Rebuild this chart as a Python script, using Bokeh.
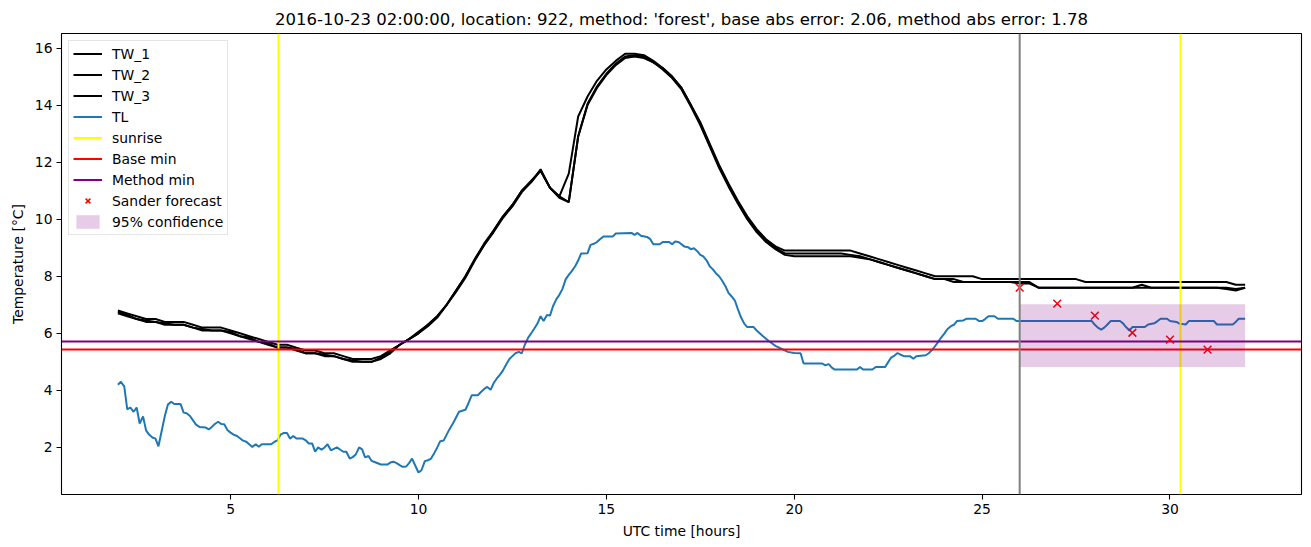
from bokeh.plotting import figure
from bokeh.models import Range1d, FixedTicker, Span
from bokeh.embed import file_html
from bokeh.resources import INLINE

# ---------------- data ----------------
tw_hours = [2 + 0.25 * i for i in range(121)]

TW_1 = [6.8, 6.7, 6.6, 6.5, 6.5, 6.4, 6.4, 6.4, 6.3, 6.2, 6.2, 6.2, 6.1, 6.0, 5.9, 5.8,
        5.7, 5.6, 5.6, 5.5, 5.4, 5.4, 5.3, 5.3, 5.2, 5.1, 5.1, 5.1, 5.2, 5.4, 5.6, 5.8,
        6.0, 6.3, 6.6, 7.0, 7.5, 8.0, 8.6, 9.15, 9.6, 10.1, 10.5, 11.0, 11.3, 11.75, 11.1, 10.8,
        11.6, 13.6, 14.3, 14.85, 15.25, 15.55, 15.8, 15.8, 15.75, 15.55, 15.3, 15.0, 14.6, 14.0,
        13.4, 12.65, 11.9, 11.25, 10.65, 10.1, 9.65, 9.3, 9.05, 8.9, 8.9, 8.9, 8.9, 8.9,
        8.9, 8.9, 8.9, 8.8, 8.7, 8.6, 8.5, 8.4, 8.3, 8.2, 8.1, 8.0, 8.0, 8.0, 8.0, 8.0,
        7.9, 7.9, 7.9, 7.9, 7.9, 7.9, 7.9, 7.9, 7.9, 7.9, 7.9, 7.8, 7.8, 7.8, 7.8, 7.8,
        7.8, 7.8, 7.8, 7.8, 7.8, 7.8, 7.8, 7.8, 7.8, 7.8, 7.8, 7.7, 7.7]

TW_2 = [6.7, 6.6, 6.5, 6.4, 6.4, 6.3, 6.3, 6.3, 6.2, 6.1, 6.1, 6.1, 6.0, 5.9, 5.8, 5.7,
        5.6, 5.5, 5.5, 5.4, 5.3, 5.3, 5.2, 5.2, 5.1, 5.0, 5.0, 5.0, 5.1, 5.3, 5.6, 5.8,
        6.0, 6.25, 6.55, 7.0, 7.45, 7.95, 8.55, 9.1, 9.55, 10.05, 10.45, 10.95, 11.3, 11.7, 11.1, 10.75,
        10.6, 12.9, 14.0, 14.6, 15.05, 15.4, 15.65, 15.7, 15.65, 15.5, 15.25, 14.95, 14.55, 13.95,
        13.3, 12.55, 11.8, 11.15, 10.55, 10.0, 9.55, 9.2, 8.95, 8.75, 8.7, 8.7, 8.7, 8.7,
        8.7, 8.7, 8.7, 8.65, 8.6, 8.5, 8.4, 8.3, 8.2, 8.1, 8.0, 7.9, 7.9, 7.8, 7.8, 7.8,
        7.8, 7.8, 7.8, 7.8, 7.8, 7.8, 7.6, 7.6, 7.6, 7.6, 7.6, 7.6, 7.6, 7.6, 7.6, 7.6,
        7.6, 7.6, 7.6, 7.6, 7.6, 7.6, 7.6, 7.6, 7.6, 7.6, 7.6, 7.55, 7.6]

TW_3 = [6.75, 6.65, 6.5, 6.45, 6.4, 6.35, 6.3, 6.3, 6.2, 6.15, 6.1, 6.1, 6.05, 5.9, 5.85, 5.7,
        5.65, 5.5, 5.5, 5.45, 5.3, 5.3, 5.25, 5.2, 5.1, 5.05, 5.0, 5.0, 5.15, 5.35, 5.6, 5.8,
        6.05, 6.3, 6.6, 7.0, 7.5, 8.0, 8.6, 9.1, 9.6, 10.1, 10.5, 11.0, 11.35, 11.7, 11.1, 10.8,
        10.6, 12.9, 14.05, 14.65, 15.1, 15.45, 15.7, 15.75, 15.7, 15.5, 15.3, 15.0, 14.6, 14.0,
        13.35, 12.6, 11.85, 11.2, 10.6, 10.05, 9.6, 9.25, 9.0, 8.8, 8.8, 8.8, 8.8, 8.8,
        8.8, 8.8, 8.75, 8.7, 8.6, 8.5, 8.4, 8.3, 8.2, 8.1, 8.0, 7.9, 7.9, 7.9, 7.8, 7.8,
        7.8, 7.8, 7.8, 7.8, 7.75, 7.75, 7.6, 7.6, 7.6, 7.6, 7.6, 7.6, 7.6, 7.6, 7.6, 7.6,
        7.6, 7.7, 7.6, 7.6, 7.6, 7.6, 7.6, 7.6, 7.6, 7.6, 7.55, 7.5, 7.6]

tl_hours = [2.0, 2.08, 2.17, 2.25, 2.33, 2.42, 2.5, 2.58, 2.67, 2.75, 2.83, 2.92, 3.0, 3.08,
            3.17, 3.25, 3.33, 3.42, 3.5, 3.67, 3.75, 3.83, 3.92, 4.0, 4.08, 4.17, 4.33, 4.42,
            4.5, 4.58, 4.67, 4.75, 4.83, 4.92, 5.0, 5.08, 5.17, 5.25, 5.33, 5.42, 5.5, 5.58,
            5.67, 5.75, 5.83, 6.08, 6.17, 6.25, 6.33, 6.42, 6.5, 6.58, 6.67, 6.75, 6.92, 7.0,
            7.08, 7.17, 7.25, 7.33, 7.42, 7.5, 7.58, 7.67, 7.83, 7.92, 8.0, 8.08, 8.17, 8.25,
            8.33, 8.42, 8.5, 8.58, 8.67, 8.75, 8.83, 9.0, 9.17, 9.25, 9.33, 9.42, 9.5, 9.58,
            9.67, 9.75, 9.83, 9.92, 10.0, 10.08, 10.17, 10.25, 10.33, 10.42, 10.5, 10.58, 10.67,
            10.75, 10.83, 10.92, 11.0, 11.08, 11.25, 11.33, 11.42, 11.58, 11.67, 11.75, 11.83,
            11.92, 12.0, 12.08, 12.17, 12.25, 12.33, 12.42, 12.5, 12.58, 12.67, 12.75, 12.83,
            12.92, 13.0, 13.08, 13.17, 13.25, 13.33, 13.42, 13.5, 13.58, 13.67, 13.75, 13.83,
            13.92, 14.0, 14.08, 14.17, 14.25, 14.33, 14.5, 14.58, 14.67, 14.75, 14.83, 14.92,
            15.17, 15.25, 15.67, 15.75, 15.83, 15.92, 16.08, 16.17, 16.25, 16.42, 16.5, 16.67,
            16.75, 16.83, 16.92, 17.08, 17.17, 17.25, 17.33, 17.42, 17.5, 17.58, 17.67, 17.75,
            17.83, 17.92, 18.0, 18.08, 18.17, 18.25, 18.33, 18.42, 18.5, 18.58, 18.67, 18.75,
            18.92, 19.0, 19.17, 19.33, 19.5, 19.67, 19.83, 20.0, 20.17, 20.25, 20.75, 20.83,
            20.92, 21.0, 21.08, 21.67, 21.75, 21.83, 22.08, 22.17, 22.42, 22.5, 22.58, 22.67,
            22.75, 22.83, 22.92, 23.08, 23.17, 23.25, 23.5, 23.58, 23.67, 23.75, 23.83, 23.92,
            24.0, 24.08, 24.17, 24.25, 24.33, 24.5, 24.58, 24.83, 24.92, 25.0, 25.08, 25.17,
            25.33, 25.42, 25.83, 25.92, 27.92, 28.0, 28.08, 28.17, 28.25, 28.33, 28.42, 28.67,
            28.75, 28.83, 28.92, 29.0, 29.33, 29.42, 29.58, 29.67, 29.75, 29.92, 30.0, 30.17,
            30.25, 30.42, 30.5, 31.17, 31.25, 31.67, 31.75, 31.83, 32.0]

TL = [4.2, 4.3, 4.14, 3.33, 3.4, 3.25, 3.4, 2.84, 3.09, 2.6, 2.45, 2.35, 2.31, 2.04,
      2.6, 3.1, 3.5, 3.6, 3.52, 3.52, 3.22, 3.2, 3.1, 2.95, 2.8, 2.72, 2.7, 2.63,
      2.72, 2.82, 2.9, 2.82, 2.81, 2.6, 2.52, 2.45, 2.4, 2.32, 2.24, 2.2, 2.1, 2.02,
      2.11, 2.02, 2.11, 2.11, 2.2, 2.25, 2.45, 2.51, 2.51, 2.31, 2.4, 2.31, 2.31, 2.25,
      2.14, 2.14, 1.85, 2.0, 1.92, 2.0, 2.11, 1.9, 2.0, 1.92, 1.85, 1.85, 1.61, 1.66,
      1.75, 2.0, 1.93, 1.65, 1.7, 1.53, 1.49, 1.4, 1.4, 1.47, 1.5, 1.45, 1.38, 1.32,
      1.33, 1.45, 1.61, 1.35, 1.12, 1.2, 1.52, 1.55, 1.6, 1.8, 2.0, 2.22, 2.24,
      2.45, 2.65, 2.85, 3.05, 3.25, 3.32, 3.55, 3.83, 3.83, 3.95, 4.05, 4.12,
      4.02, 4.25, 4.41, 4.55, 4.7, 4.9, 5.1, 5.2, 5.3, 5.35, 5.3, 5.6,
      5.85, 6.0, 6.16, 6.35, 6.6, 6.43, 6.64, 6.62, 6.95, 7.2, 7.35, 7.55,
      7.9, 8.05, 8.18, 8.35, 8.55, 8.8, 8.81, 9.1, 9.14, 9.2, 9.3, 9.39,
      9.39, 9.5, 9.52, 9.45, 9.52, 9.42, 9.38, 9.3, 9.12, 9.12, 9.2, 9.2,
      9.12, 9.22, 9.2, 9.04, 9.02, 8.95, 8.98, 8.88, 8.75, 8.7, 8.55, 8.35,
      8.25, 8.1, 8.0, 7.85, 7.65, 7.42, 7.3, 7.15, 6.85, 6.57, 6.34, 6.22,
      6.22, 6.1, 5.9, 5.72, 5.56, 5.45, 5.35, 5.31, 5.3, 4.94, 4.94, 4.88,
      4.92, 4.8, 4.73, 4.73, 4.82, 4.73, 4.73, 4.82, 4.82, 4.99, 5.15, 5.22,
      5.31, 5.25, 5.2, 5.2, 5.11, 5.2, 5.23, 5.3, 5.42, 5.55, 5.7, 5.87,
      6.0, 6.15, 6.25, 6.3, 6.43, 6.45, 6.51, 6.51, 6.43, 6.43, 6.5, 6.6,
      6.6, 6.51, 6.51, 6.43, 6.43, 6.3, 6.2, 6.13, 6.2, 6.3, 6.43, 6.43,
      6.35, 6.22, 6.1, 6.22, 6.22, 6.31, 6.35, 6.43, 6.51, 6.51, 6.43, 6.4,
      6.34, 6.31, 6.43, 6.43, 6.31, 6.31, 6.4, 6.51, 6.51]

sunrise_hours = [6.28, 30.29]
forecast_start = 26.0
base_min = 5.45
method_min = 5.72

forecast_hours = [26, 27, 28, 29, 30, 31]
sander_forecast = [7.6, 7.04, 6.62, 6.02, 5.78, 5.43]

conf_left = 26.0
conf_right = 32.0
conf_low = 4.82
conf_high = 7.02

title_text = ("2016-10-23 02:00:00, location: 922, method: 'forest', "
              "base abs error: 2.06, method abs error: 1.78")

# ---------------- figure ----------------
FONT = "DejaVu Sans"

p = figure(width=1311, height=547, output_backend="svg", toolbar_location=None,
           x_range=Range1d(0.5, 33.5), y_range=Range1d(0.35, 16.51),
           min_border_left=61, min_border_right=10, min_border_top=33, min_border_bottom=53,
           title=title_text)
p.background_fill_color = "white"
p.border_fill_color = "white"
p.outline_line_color = "black"
p.outline_line_width = 1.1
p.grid.visible = False

p.title.align = "center"
p.title.text_font = FONT
p.title.text_font_size = "16.5px"
p.title.text_font_style = "normal"
p.title.text_color = "black"
p.title.offset = 0

for ax in (p.xaxis[0], p.yaxis[0]):
    ax.axis_line_color = None
    ax.major_tick_line_color = "black"
    ax.major_tick_line_width = 1.1
    ax.major_tick_out = 5
    ax.major_tick_in = 0
    ax.minor_tick_line_color = None
    ax.major_label_text_font = FONT
    ax.major_label_text_font_size = "13.9px"
    ax.major_label_text_color = "black"
    ax.axis_label_text_font = FONT
    ax.axis_label_text_font_size = "13.9px"
    ax.axis_label_text_font_style = "normal"
    ax.axis_label_text_color = "black"
    ax.major_label_standoff = 4
    ax.axis_label_standoff = 6

p.xaxis.ticker = FixedTicker(ticks=[5, 10, 15, 20, 25, 30])
p.yaxis.ticker = FixedTicker(ticks=[2, 4, 6, 8, 10, 12, 14, 16])
p.xaxis.axis_label = "UTC time [hours]"
p.yaxis.axis_label = "Temperature [°C]"

p.line(tw_hours, TW_1, color="black", line_width=2, legend_label="TW_1")
p.line(tw_hours, TW_2, color="black", line_width=2, legend_label="TW_2")
p.line(tw_hours, TW_3, color="black", line_width=2, legend_label="TW_3")
p.line(tl_hours, TL, color="#1f77b4", line_width=2, legend_label="TL")

p.vspan(x=sunrise_hours, line_color="yellow", line_width=2, legend_label="sunrise")
p.hspan(y=[base_min], line_color="red", line_width=2, legend_label="Base min")
p.hspan(y=[method_min], line_color="purple", line_width=2, legend_label="Method min")

p.add_layout(Span(location=forecast_start, dimension="height", line_color="gray", line_width=2))

p.scatter(forecast_hours, sander_forecast, marker="x", size=11, line_color="red",
          line_width=1.5, legend_label="Sander forecast")
p.quad(left=[conf_left], right=[conf_right], bottom=[conf_low], top=[conf_high],
       fill_color="purple", fill_alpha=0.2, line_color=None, legend_label="95% confidence")

lg = p.legend[0]
lg.location = "top_left"
lg.margin = 7
lg.padding = 4
lg.spacing = 4
lg.glyph_height = 17
lg.label_height = 17
lg.glyph_width = 29
lg.label_standoff = 10
lg.label_text_font = FONT
lg.label_text_font_size = "13.9px"
lg.label_text_color = "black"
lg.border_line_color = "#cccccc"
lg.border_line_width = 1
lg.background_fill_alpha = 0.8

open("out.html", "w").write(file_html(p, INLINE))
